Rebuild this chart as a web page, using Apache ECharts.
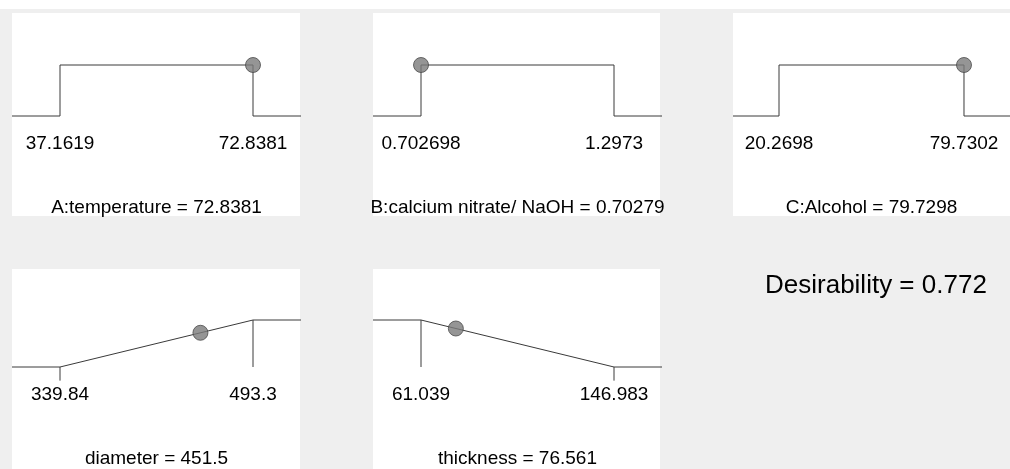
<!DOCTYPE html>
<html>
<head>
<meta charset="utf-8">
<script src="https://cdn.jsdelivr.net/npm/echarts@6/dist/echarts.min.js"></script>
<style>
  html, body { margin: 0; padding: 0; background: #efefef; }
  #chart { width: 1010px; height: 469px; }
</style>
</head>
<body>
<div id="chart"></div>
<script>
// factors (top row)
const factorNames = ['A:temperature', 'B:calcium nitrate/ NaOH', 'C:Alcohol']
const factorLow = [37.1619, 0.702698, 20.2698]
const factorHigh = [72.8381, 1.2973, 79.7302]
const factorValue = [72.8381, 0.70279, 79.7298]

// responses (bottom row)
const responseNames = ['diameter', 'thickness']
const responseLow = [339.84, 61.039]
const responseHigh = [493.3, 146.983]
const responseValue = [451.5, 76.561]
const responseDesirability = [0.728, 0.819]
const responseGoal = ['max', 'min']

const desirability = 0.772

// layout
const panelLeft = [12, 373, 733]
const panelWidth = [288, 287, 277]
const rowTop = [13, 269]
const rowHeight = [203, 200]
const gridTop = [65, 320]
const PAD = 48 / 193

const font = { fontFamily: 'Liberation Sans, Arial, sans-serif', fontSize: 19, color: '#000' }
const lineStyle = { color: '#3a3a3a', width: 1 }

const grids = []
const xAxes = []
const yAxes = []
const series = []
const graphics = [
  { type: 'rect', shape: { x: 0, y: 0, width: 1010, height: 9 }, style: { fill: '#fff' }, z: -10 }
]

const addPanel = (idx, row, col, name, value, low, high) => {
  const pad = (high - low) * PAD
  const min = low - pad
  const max = high + pad
  graphics.push({
    type: 'rect', z: -10,
    shape: { x: panelLeft[col], y: rowTop[row], width: panelWidth[col], height: rowHeight[row] },
    style: { fill: '#fff' }
  })
  grids.push({ left: panelLeft[col], top: gridTop[row], width: 289, height: 51 })
  xAxes.push({
    gridIndex: idx, type: 'value', min, max,
    axisLine: { show: false }, axisTick: { show: false }, splitLine: { show: false },
    axisLabel: { ...font, margin: 18, customValues: [low, high], formatter: v => String(v) },
    name: name + ' = ' + value, nameLocation: 'middle', nameGap: 82,
    nameTextStyle: { ...font }
  })
  yAxes.push({ gridIndex: idx, type: 'value', min: 0, max: 1, show: false })
  return { min, max }
}

const lineSeries = (idx, data) => ({
  type: 'line', xAxisIndex: idx, yAxisIndex: idx, data,
  symbol: 'none', clip: false, silent: true, lineStyle
})

const dotSeries = (idx, x, y) => ({
  type: 'scatter', xAxisIndex: idx, yAxisIndex: idx, data: [[x, y]],
  symbolSize: 15, clip: false, silent: true, z: 5,
  itemStyle: { color: '#7b7b7b', borderColor: '#4a4a4a', borderWidth: 1 }
})

factorNames.forEach((name, i) => {
  const low = factorLow[i]
  const high = factorHigh[i]
  const { min, max } = addPanel(i, 0, i, name, factorValue[i], low, high)
  series.push(lineSeries(i, [[min, 0], [low, 0], [low, 1], [high, 1], [high, 0], [max, 0]]))
  series.push(dotSeries(i, factorValue[i], 1))
})

responseNames.forEach((name, j) => {
  const idx = factorNames.length + j
  const low = responseLow[j]
  const high = responseHigh[j]
  const { min, max } = addPanel(idx, 1, j, name, responseValue[j], low, high)
  const dLow = responseGoal[j] === 'max' ? 0 : 1
  const dHigh = 1 - dLow
  series.push(lineSeries(idx, [[min, dLow], [low, dLow], [high, dHigh], [max, dHigh]]))
  // limit markers
  series.push(lineSeries(idx, [[low, dLow], [low, dLow ? 0 : -0.29]]))
  series.push(lineSeries(idx, [[high, dHigh], [high, dHigh ? 0 : -0.29]]))
  series.push(dotSeries(idx, responseValue[j], responseDesirability[j]))
})

graphics.push({
  type: 'text', left: 765, top: 273, z: 10,
  style: { text: 'Desirability = ' + desirability, fontSize: 26, fontFamily: 'Liberation Sans, Arial, sans-serif', fill: '#000' }
})

const chart = echarts.init(document.getElementById('chart'))
chart.setOption({
  backgroundColor: '#efefef',
  animation: false,
  grid: grids,
  xAxis: xAxes,
  yAxis: yAxes,
  graphic: graphics,
  series
})
</script>
</body>
</html>
